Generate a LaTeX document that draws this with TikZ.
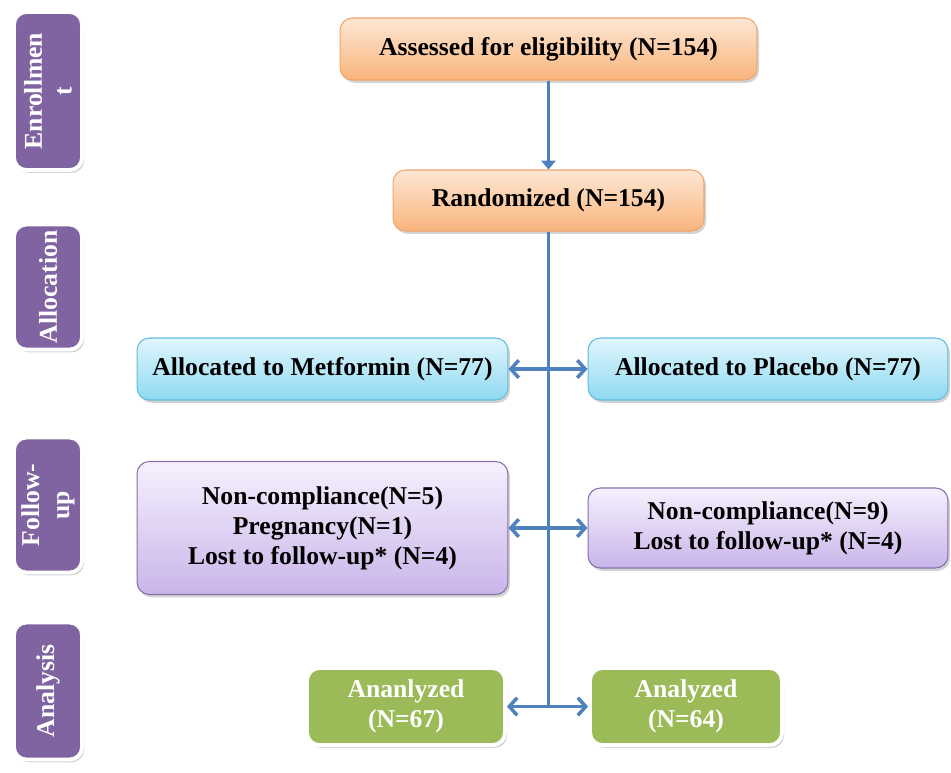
\documentclass[tikz,border=0pt]{standalone}
\usepackage{fontspec}
\setmainfont{Liberation Serif}
\usetikzlibrary{positioning,shadows,arrows.meta}

\definecolor{flowblue}{HTML}{4F81BD}
\definecolor{orangetop}{HTML}{FDE7D4}
\definecolor{orangebot}{HTML}{F9B47C}
\definecolor{orangeline}{HTML}{F0A56C}
\definecolor{bluetop}{HTML}{E0F6FD}
\definecolor{bluebot}{HTML}{8FD9F0}
\definecolor{blueline}{HTML}{62BCD9}
\definecolor{lilactop}{HTML}{F6F0FD}
\definecolor{lilacbot}{HTML}{C9B5EA}
\definecolor{lilacline}{HTML}{8570A8}
\definecolor{analysisgreen}{HTML}{9BBB59}
\definecolor{phasepurple}{HTML}{8064A2}

\begin{document}
\begin{tikzpicture}[x=0.02cm, y=-0.02cm,
    box/.style={rounded corners=7pt, line width=0.6pt, align=center, inner sep=2pt, font=\bfseries\fontsize{14.6}{17}\selectfont, drop shadow={opacity=0.35, shadow xshift=1.2pt, shadow yshift=-1.6pt}},
    orangebox/.style={box, draw=orangeline, top color=orangetop, bottom color=orangebot},
    bluebox/.style={box, draw=blueline, top color=bluetop, bottom color=bluebot},
    lilacbox/.style={box, draw=lilacline, top color=lilactop, bottom color=lilacbot},
    greenbox/.style={box, draw=white, line width=2.2pt, fill=analysisgreen, text=white},
    phase/.style={box, rotate=90, draw=white, line width=2.2pt, fill=phasepurple, text=white, minimum height=1.36cm},
    flow/.style={draw=flowblue, line width=2pt},
    twoway/.style={flow, {Straight Barb[length=4.5pt,width=10pt]}-{Straight Barb[length=4.5pt,width=10pt]}}]
    \useasboundingbox (0,0) rectangle (951,772);

    \node[phase, minimum width=3.16cm] (enrol) at (48,91) {Enrollmen\\t};
    \node[phase, minimum width=2.5cm] (alloc) at (48,287) {Allocation};
    \node[phase, minimum width=2.7cm] (follow) at (48,505) {Follow-\\up};
    \node[phase, minimum width=2.74cm] (analysis) at (48,691) {Analysis};

    \node[orangebox, minimum width=8.34cm, minimum height=1.24cm] (assess) at (548.5,49) {Assessed for eligibility (N=154)};
    \node[orangebox, minimum width=6.22cm, minimum height=1.22cm] (rand) at (548.5,200.5) {Randomized (N=154)};
    \node[bluebox, minimum width=7.42cm, minimum height=1.24cm] (metf) at (322.5,369) {Allocated to Metformin (N=77)};
    \node[bluebox, minimum width=7.2cm, minimum height=1.24cm] (plac) at (768,369) {Allocated to Placebo (N=77)};
    \node[lilacbox, minimum width=7.42cm, minimum height=2.66cm] (lossM) at (322.5,528) {Non-compliance(N=5)\\Pregnancy(N=1)\\Lost to follow-up* (N=4)};
    \node[lilacbox, minimum width=7.2cm, minimum height=1.6cm] (lossP) at (768,528) {Non-compliance(N=9)\\Lost to follow-up* (N=4)};
    \node[greenbox, minimum width=3.96cm, minimum height=1.54cm] (anM) at (406,706.5) {Ananlyzed\\(N=67)};
    \node[greenbox, minimum width=3.84cm, minimum height=1.54cm] (anP) at (686,706.5) {Analyzed\\(N=64)};

    \draw[flow, -{Triangle[length=5pt,width=8pt]}] (assess) -- (rand);
    \draw[flow] (rand) -- (rand |- anM);
    \draw[twoway] (metf) -- (plac);
    \draw[twoway] (lossM) -- (lossP);
    \draw[twoway] (anM) -- (anP);
\end{tikzpicture}
\end{document}
